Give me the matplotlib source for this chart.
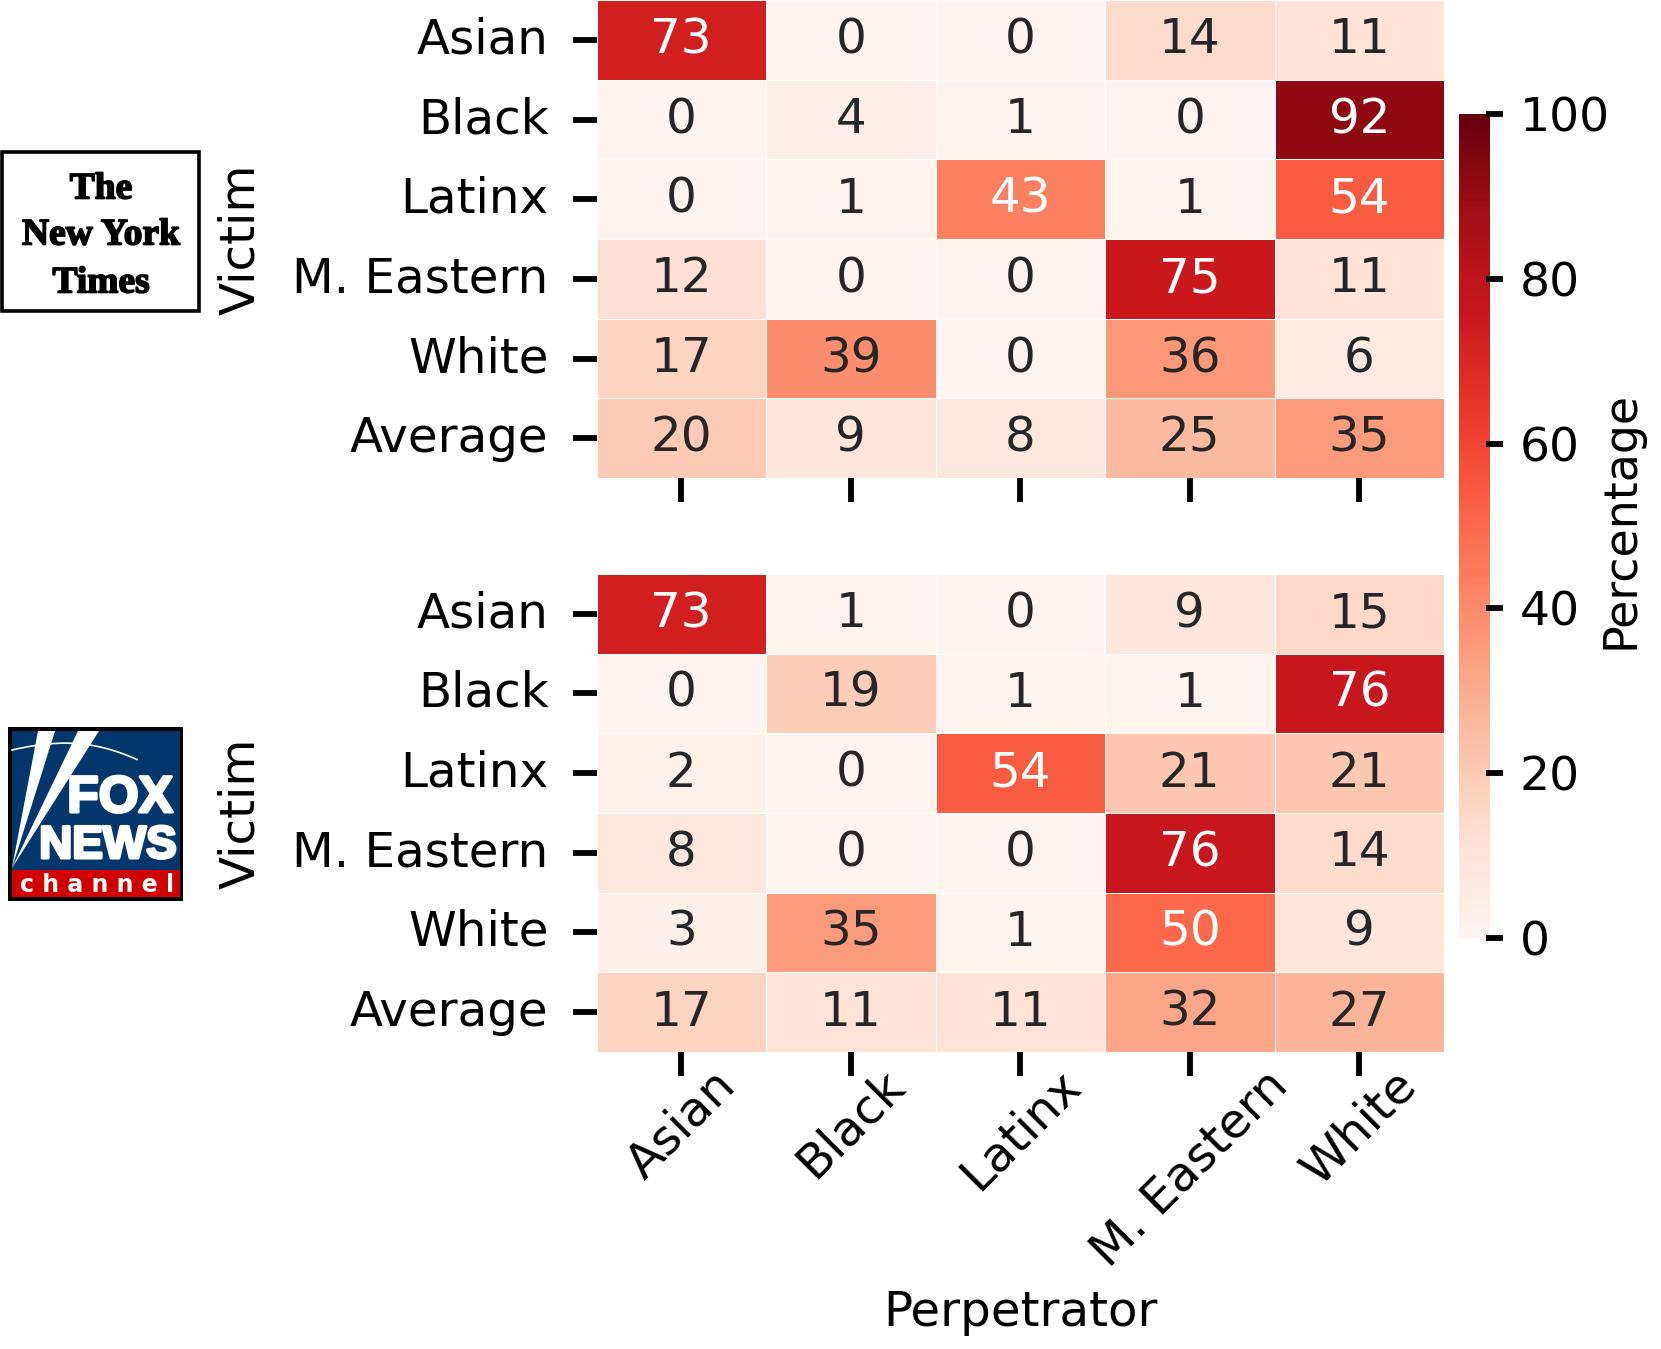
import numpy as np
import matplotlib
matplotlib.use("Agg")
import matplotlib.pyplot as plt
import matplotlib.patheffects as pe
from matplotlib.patches import Rectangle, Polygon
import seaborn as sns

victims = ["Asian", "Black", "Latinx", "M. Eastern", "White", "Average"]
perpetrators = ["Asian", "Black", "Latinx", "M. Eastern", "White"]
nyt_values = [
    [73, 0, 0, 14, 11],
    [0, 4, 1, 0, 92],
    [0, 1, 43, 1, 54],
    [12, 0, 0, 75, 11],
    [17, 39, 0, 36, 6],
    [20, 9, 8, 25, 35],
]
fox_values = [
    [73, 1, 0, 9, 15],
    [0, 19, 1, 1, 76],
    [2, 0, 54, 21, 21],
    [8, 0, 0, 76, 14],
    [3, 35, 1, 50, 9],
    [17, 11, 11, 32, 27],
]
cbar_ticks = [0, 20, 40, 60, 80, 100]

W, H = 1661, 1349
DPI = 100
FS = 34.8
plt.rcParams["font.family"] = "DejaVu Sans"
fig = plt.figure(figsize=(W / DPI, H / DPI), dpi=DPI, facecolor="white")


def px_axes(x0, y0, x1, y1):
    return fig.add_axes([x0 / W, 1 - y1 / H, (x1 - x0) / W, (y1 - y0) / H])


ax_top = px_axes(596.5, 0, 1444, 478)
ax_bot = px_axes(596.5, 574, 1444, 1052)
cax = px_axes(1459, 114, 1490, 938)

for ax, vals in ((ax_top, nyt_values), (ax_bot, fox_values)):
    sns.heatmap(np.array(vals), ax=ax, cmap="Reds", vmin=0, vmax=100, annot=True,
                fmt="d", annot_kws={"fontsize": FS}, linewidths=0.45, linecolor="white",
                cbar=ax is ax_top, cbar_ax=cax if ax is ax_top else None,
                xticklabels=perpetrators, yticklabels=victims, square=False)
    ax.tick_params(axis="both", length=17.5, width=4.2, color="black", labelsize=FS, pad=17)
    ax.set_yticklabels(victims, rotation=0, fontsize=FS)
    ax.set_ylabel("Victim", fontsize=FS)
    ax.yaxis.set_label_coords((265 - 597) / 847, 0.5)

ax_top.set_xticklabels([])
ax_top.set_xlabel("")
ax_bot.set_xticklabels(perpetrators, rotation=45, ha="center", rotation_mode="default", fontsize=FS)
ax_bot.tick_params(axis="x", pad=-11)
ax_bot.set_xlabel("Perpetrator", fontsize=FS)
ax_bot.xaxis.set_label_coords(0.5, (1052 - 1289) / 478, transform=ax_bot.transAxes)

cbar = ax_top.collections[0].colorbar
cbar.set_ticks(cbar_ticks)
cbar.outline.set_visible(False)
cax.tick_params(axis="y", length=0, labelsize=34, pad=21.5)
# colorbar ticks straddle the bar edge in the reference
tick_tf = cax.get_yaxis_transform()
for v in cbar_ticks:
    cax.plot([(1486 - 1459) / 31, (1503 - 1459) / 31], [v, v], transform=tick_tf, color="black",
             lw=4.2, solid_capstyle="butt", clip_on=False, zorder=6)
cbar.set_label("Percentage", fontsize=33)
cax.yaxis.set_label_coords((1598 - 1459) / 31, (938 - 520) / 824)

# logos, drawn in figure pixel coordinates
logo = fig.add_axes([0, 0, 1, 1], zorder=5)
logo.set_xlim(0, W)
logo.set_ylim(H, 0)
logo.axis("off")
logo.patch.set_alpha(0)

logo.add_patch(Rectangle((2, 152), 197, 159, fc="white", ec="black", lw=2.6))
heavy = [pe.withStroke(linewidth=1.2, foreground="black")]
for txt, y in (("The", 189), ("New York", 235), ("Times", 283)):
    logo.text(101, y, txt, ha="center", va="center", family="Liberation Serif",
              weight="bold", fontsize=27, color="black", path_effects=heavy)

logo.add_patch(Rectangle((8, 727), 175, 174, fc="black", ec="none"))
logo.add_patch(Rectangle((12, 731), 168, 139, fc="#03366d", ec="none"))
logo.add_patch(Rectangle((12, 870), 168, 27, fc="#d10000", ec="none"))
logo.add_patch(Polygon([(12, 868), (38, 731), (55, 731)], fc="white", ec="none"))
logo.add_patch(Polygon([(12, 868), (78, 731), (99, 731)], fc="white", ec="none"))
arc_t = np.linspace(0, 1, 30)
logo.plot(12 + 125 * arc_t, 750 - 12 * np.sin(np.pi * arc_t * 0.75) + 18 * arc_t ** 2,
          color="white", lw=1.2)
thick = [pe.withStroke(linewidth=2.2, foreground="white")]
logo.text(120, 793, "FOX", ha="center", va="center_baseline", family="Liberation Sans",
          weight="bold", fontsize=37, color="white", path_effects=thick)
logo.text(108, 841, "NEWS", ha="center", va="center_baseline", family="Liberation Sans",
          weight="bold", fontsize=33, color="white", path_effects=thick)
logo.text(97, 885, "c h a n n e l", ha="center", va="center", family="DejaVu Sans",
          weight="bold", fontsize=17, color="white")

fig.savefig("out.png", dpi=DPI, facecolor="white")
